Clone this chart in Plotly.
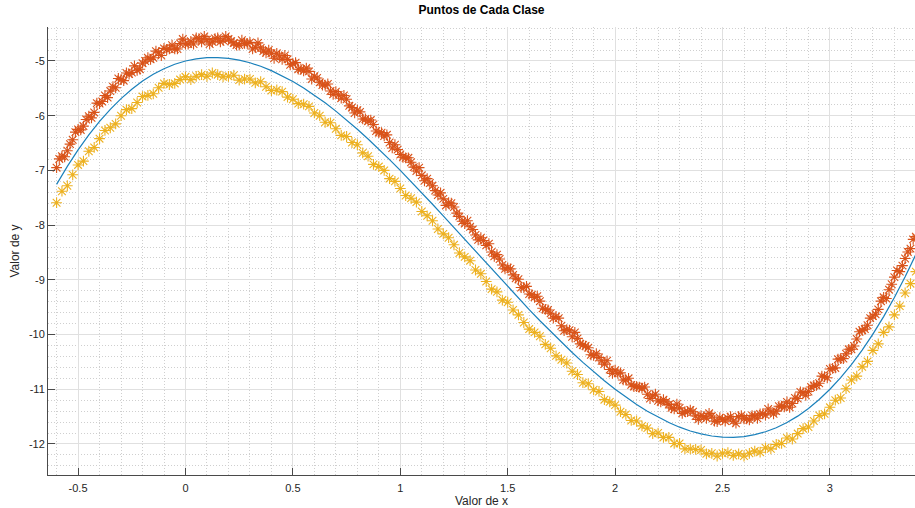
import plotly.graph_objects as go

# Abscisas de muestreo
x_muestras = [
    -0.600, -0.575, -0.550, -0.525, -0.500, -0.475, -0.450, -0.425, -0.400, -0.375,
    -0.350, -0.325, -0.300, -0.275, -0.250, -0.225, -0.200, -0.175, -0.150, -0.125,
    -0.100, -0.075, -0.050, -0.025, 0.000, 0.025, 0.050, 0.075, 0.100, 0.125,
    0.150, 0.175, 0.200, 0.225, 0.250, 0.275, 0.300, 0.325, 0.350, 0.375,
    0.400, 0.425, 0.450, 0.475, 0.500, 0.525, 0.550, 0.575, 0.600, 0.625,
    0.650, 0.675, 0.700, 0.725, 0.750, 0.775, 0.800, 0.825, 0.850, 0.875,
    0.900, 0.925, 0.950, 0.975, 1.000, 1.025, 1.050, 1.075, 1.100, 1.125,
    1.150, 1.175, 1.200, 1.225, 1.250, 1.275, 1.300, 1.325, 1.350, 1.375,
    1.400, 1.425, 1.450, 1.475, 1.500, 1.525, 1.550, 1.575, 1.600, 1.625,
    1.650, 1.675, 1.700, 1.725, 1.750, 1.775, 1.800, 1.825, 1.850, 1.875,
    1.900, 1.925, 1.950, 1.975, 2.000, 2.025, 2.050, 2.075, 2.100, 2.125,
    2.150, 2.175, 2.200, 2.225, 2.250, 2.275, 2.300, 2.325, 2.350, 2.375,
    2.400, 2.425, 2.450, 2.475, 2.500, 2.525, 2.550, 2.575, 2.600, 2.625,
    2.650, 2.675, 2.700, 2.725, 2.750, 2.775, 2.800, 2.825, 2.850, 2.875,
    2.900, 2.925, 2.950, 2.975, 3.000, 3.025, 3.050, 3.075, 3.100, 3.125,
    3.150, 3.175, 3.200, 3.225, 3.250, 3.275, 3.300, 3.325, 3.350, 3.375,
    3.400,
]

# Abscisas intermedias (solo clase 1, más densa)
x_intermedios = [
    -0.5875, -0.5625, -0.5375, -0.5125, -0.4875, -0.4625, -0.4375, -0.4125, -0.3875, -0.3625,
    -0.3375, -0.3125, -0.2875, -0.2625, -0.2375, -0.2125, -0.1875, -0.1625, -0.1375, -0.1125,
    -0.0875, -0.0625, -0.0375, -0.0125, 0.0125, 0.0375, 0.0625, 0.0875, 0.1125, 0.1375,
    0.1625, 0.1875, 0.2125, 0.2375, 0.2625, 0.2875, 0.3125, 0.3375, 0.3625, 0.3875,
    0.4125, 0.4375, 0.4625, 0.4875, 0.5125, 0.5375, 0.5625, 0.5875, 0.6125, 0.6375,
    0.6625, 0.6875, 0.7125, 0.7375, 0.7625, 0.7875, 0.8125, 0.8375, 0.8625, 0.8875,
    0.9125, 0.9375, 0.9625, 0.9875, 1.0125, 1.0375, 1.0625, 1.0875, 1.1125, 1.1375,
    1.1625, 1.1875, 1.2125, 1.2375, 1.2625, 1.2875, 1.3125, 1.3375, 1.3625, 1.3875,
    1.4125, 1.4375, 1.4625, 1.4875, 1.5125, 1.5375, 1.5625, 1.5875, 1.6125, 1.6375,
    1.6625, 1.6875, 1.7125, 1.7375, 1.7625, 1.7875, 1.8125, 1.8375, 1.8625, 1.8875,
    1.9125, 1.9375, 1.9625, 1.9875, 2.0125, 2.0375, 2.0625, 2.0875, 2.1125, 2.1375,
    2.1625, 2.1875, 2.2125, 2.2375, 2.2625, 2.2875, 2.3125, 2.3375, 2.3625, 2.3875,
    2.4125, 2.4375, 2.4625, 2.4875, 2.5125, 2.5375, 2.5625, 2.5875, 2.6125, 2.6375,
    2.6625, 2.6875, 2.7125, 2.7375, 2.7625, 2.7875, 2.8125, 2.8375, 2.8625, 2.8875,
    2.9125, 2.9375, 2.9625, 2.9875, 3.0125, 3.0375, 3.0625, 3.0875, 3.1125, 3.1375,
    3.1625, 3.1875, 3.2125, 3.2375, 3.2625, 3.2875, 3.3125, 3.3375, 3.3625, 3.3875,
]

# Clase 1 (por encima de la frontera)
y_clase1 = [
    -6.95, -6.74, -6.64, -6.44, -6.25, -6.19, -6.01, -5.94, -5.78, -5.63,
    -5.55, -5.49, -5.34, -5.22, -5.21, -5.17, -5.04, -4.94, -4.94, -4.85,
    -4.77, -4.78, -4.78, -4.68, -4.69, -4.64, -4.58, -4.65, -4.61, -4.65,
    -4.58, -4.62, -4.60, -4.67, -4.71, -4.68, -4.66, -4.75, -4.76, -4.85,
    -4.86, -4.86, -4.97, -4.97, -5.05, -5.15, -5.18, -5.19, -5.28, -5.39,
    -5.44, -5.55, -5.56, -5.68, -5.70, -5.85, -5.90, -6.06, -6.10, -6.16,
    -6.31, -6.37, -6.49, -6.53, -6.71, -6.77, -6.85, -7.01, -7.09, -7.15,
    -7.28, -7.45, -7.52, -7.59, -7.67, -7.84, -7.97, -8.03, -8.18, -8.23,
    -8.37, -8.49, -8.54, -8.73, -8.78, -8.91, -8.99, -9.14, -9.26, -9.32,
    -9.39, -9.54, -9.61, -9.67, -9.84, -9.91, -10.04, -10.07, -10.19, -10.24,
    -10.38, -10.42, -10.54, -10.64, -10.65, -10.70, -10.83, -10.92, -10.95, -10.98,
    -11.09, -11.12, -11.21, -11.19, -11.28, -11.36, -11.34, -11.41, -11.38, -11.49,
    -11.48, -11.53, -11.49, -11.59, -11.55, -11.53, -11.58, -11.50, -11.54, -11.56,
    -11.49, -11.45, -11.47, -11.41, -11.40, -11.31, -11.23, -11.26, -11.17, -11.06,
    -11.04, -10.93, -10.89, -10.77, -10.63, -10.61, -10.44, -10.35, -10.27, -10.08,
    -9.92, -9.83, -9.66, -9.54, -9.32, -9.18, -8.95, -8.85, -8.61, -8.43,
    -8.21,
]
y_clase1_intermedios = [
    -6.79, -6.75, -6.52, -6.30, -6.26, -6.07, -6.04, -5.77, -5.74, -5.67,
    -5.47, -5.32, -5.36, -5.24, -5.09, -5.15, -5.00, -4.97, -4.82, -4.90,
    -4.79, -4.71, -4.78, -4.60, -4.69, -4.69, -4.59, -4.55, -4.69, -4.59,
    -4.65, -4.55, -4.64, -4.71, -4.62, -4.68, -4.78, -4.67, -4.82, -4.80,
    -4.95, -4.91, -4.90, -5.07, -5.03, -5.15, -5.13, -5.33, -5.31, -5.44,
    -5.42, -5.61, -5.62, -5.63, -5.82, -5.95, -5.93, -6.06, -6.08, -6.28,
    -6.31, -6.35, -6.59, -6.62, -6.76, -6.77, -6.94, -6.95, -7.19, -7.23,
    -7.37, -7.41, -7.64, -7.60, -7.78, -7.93, -7.92, -8.08, -8.27, -8.28,
    -8.34, -8.57, -8.62, -8.80, -8.80, -8.97, -9.14, -9.12, -9.27, -9.30,
    -9.52, -9.55, -9.70, -9.70, -9.93, -9.92, -9.96, -10.17, -10.21, -10.37,
    -10.35, -10.48, -10.48, -10.71, -10.71, -10.83, -10.80, -10.95, -10.96, -10.96,
    -11.17, -11.09, -11.23, -11.23, -11.34, -11.27, -11.44, -11.41, -11.41, -11.55,
    -11.50, -11.44, -11.58, -11.52, -11.58, -11.50, -11.62, -11.48, -11.54, -11.48,
    -11.53, -11.45, -11.36, -11.45, -11.31, -11.32, -11.33, -11.16, -11.05, -11.11,
    -10.96, -10.93, -10.76, -10.79, -10.62, -10.45, -10.44, -10.27, -10.21, -9.95,
    -9.90, -9.70, -9.63, -9.39, -9.34, -9.08, -8.83, -8.74, -8.49, -8.26,
]

# Clase 2 (por debajo de la frontera)
y_clase2 = [
    -7.59, -7.38, -7.28, -7.08, -6.90, -6.83, -6.65, -6.58, -6.42, -6.27,
    -6.22, -6.15, -6.00, -5.89, -5.87, -5.76, -5.65, -5.63, -5.60, -5.49,
    -5.41, -5.43, -5.41, -5.34, -5.29, -5.34, -5.28, -5.25, -5.28, -5.22,
    -5.25, -5.29, -5.28, -5.26, -5.35, -5.33, -5.33, -5.40, -5.38, -5.47,
    -5.54, -5.53, -5.56, -5.66, -5.70, -5.78, -5.79, -5.83, -5.95, -6.00,
    -6.12, -6.13, -6.24, -6.36, -6.38, -6.49, -6.53, -6.68, -6.74, -6.89,
    -6.93, -7.00, -7.15, -7.20, -7.33, -7.46, -7.51, -7.58, -7.75, -7.83,
    -7.92, -8.07, -8.16, -8.23, -8.36, -8.51, -8.58, -8.65, -8.82, -8.89,
    -9.03, -9.17, -9.22, -9.37, -9.41, -9.55, -9.64, -9.78, -9.90, -9.96,
    -10.03, -10.18, -10.25, -10.39, -10.46, -10.52, -10.67, -10.73, -10.88, -10.90,
    -11.01, -11.04, -11.19, -11.23, -11.29, -11.41, -11.46, -11.57, -11.58, -11.67,
    -11.71, -11.81, -11.80, -11.88, -11.88, -11.99, -11.99, -12.09, -12.09, -12.10,
    -12.11, -12.18, -12.17, -12.22, -12.17, -12.16, -12.21, -12.18, -12.22, -12.17,
    -12.13, -12.15, -12.07, -12.09, -12.01, -11.99, -11.89, -11.91, -11.81, -11.72,
    -11.69, -11.58, -11.48, -11.45, -11.33, -11.20, -11.16, -10.99, -10.83, -10.76,
    -10.59, -10.49, -10.29, -10.17, -9.96, -9.86, -9.64, -9.48, -9.24, -9.07,
    -8.85,
]

# Frontera entre clases
x_frontera = x_muestras[::2]
y_frontera = [
    -7.256, -6.926, -6.625, -6.351, -6.104, -5.883, -5.687, -5.516, -5.368, -5.243,
    -5.141, -5.060, -5.000, -4.960, -4.939, -4.937, -4.952, -4.984, -5.033, -5.097,
    -5.176, -5.269, -5.375, -5.494, -5.624, -5.765, -5.917, -6.078, -6.248, -6.426,
    -6.611, -6.803, -7.000, -7.202, -7.409, -7.619, -7.832, -8.047, -8.263, -8.480,
    -8.696, -8.911, -9.125, -9.336, -9.544, -9.748, -9.947, -10.141, -10.328, -10.508,
    -10.681, -10.845, -11.000, -11.145, -11.279, -11.402, -11.512, -11.609, -11.693, -11.762,
    -11.816, -11.854, -11.875, -11.879, -11.864, -11.830, -11.777, -11.703, -11.608, -11.491,
    -11.351, -11.188, -11.000, -10.787, -10.549, -10.284, -9.992, -9.672, -9.323, -8.945,
    -8.536,
]

# Etiquetas de los ejes
x_ticks = [-0.5, 0, 0.5, 1, 1.5, 2, 2.5, 3]
x_ticktext = ["-0.5", "0", "0.5", "1", "1.5", "2", "2.5", "3"]
y_ticks = [-12, -11, -10, -9, -8, -7, -6, -5]
y_ticktext = ["-12", "-11", "-10", "-9", "-8", "-7", "-6", "-5"]

FONT = "Liberation Sans, Arial, Helvetica, sans-serif"
AXIS_COLOR = "#4a4a4a"

fig = go.Figure()

fig.add_trace(go.Scatter(
    x=x_muestras + x_intermedios, y=y_clase1 + y_clase1_intermedios,
    mode="markers", name="Clase 1",
    marker=dict(symbol="asterisk-open", size=9, color="#D95319",
                line=dict(color="#D95319", width=1.1)),
))
fig.add_trace(go.Scatter(
    x=x_muestras, y=y_clase2, mode="markers", name="Clase 2",
    marker=dict(symbol="asterisk-open", size=9, color="#EDB120",
                line=dict(color="#EDB120", width=1.1)),
))
fig.add_trace(go.Scatter(
    x=x_frontera, y=y_frontera, mode="lines", name="Frontera",
    line=dict(color="#1A80BB", width=1.2),
))

axis_common = dict(
    showline=True, linecolor=AXIS_COLOR, linewidth=1,
    ticks="inside", ticklen=7, tickcolor=AXIS_COLOR, tickwidth=1,
    showgrid=True, gridcolor="#e0e0e0", gridwidth=1,
    zeroline=False, mirror=False, automargin=False,
    tickfont=dict(family=FONT, size=11, color="#262626"),
    tickmode="array",
)

fig.update_layout(
    width=915, height=508,
    margin=dict(l=48, r=0, t=27, b=33),
    paper_bgcolor="white", plot_bgcolor="white",
    showlegend=False,
    title=dict(text="<b>Puntos de Cada Clase</b>", x=0.5, xref="paper",
               y=1 - 10 / 508, yref="container", yanchor="middle",
               font=dict(family=FONT, size=12, color="#000000")),
    font=dict(family=FONT),
)

fig.update_xaxes(
    **axis_common,
    range=[-0.64, 3.396],
    tickvals=x_ticks, ticktext=x_ticktext,
    ticklabelstandoff=3,
    minor=dict(tickmode="linear", tick0=0, dtick=0.1, showgrid=True,
               griddash="1px,2px", gridcolor="#cfcfcf", gridwidth=1, ticks=""),
    title=dict(text="Valor de x", standoff=8,
               font=dict(family=FONT, size=12, color="#262626")),
)
fig.update_yaxes(
    **axis_common,
    range=[-12.567, -4.379],
    tickvals=y_ticks, ticktext=y_ticktext,
    minor=dict(tickmode="linear", tick0=0, dtick=0.2, showgrid=True,
               griddash="1px,2px", gridcolor="#cfcfcf", gridwidth=1, ticks=""),
    title=dict(text="Valor de y", standoff=6,
               font=dict(family=FONT, size=12, color="#262626")),
)

fig.write_html("out.html")
